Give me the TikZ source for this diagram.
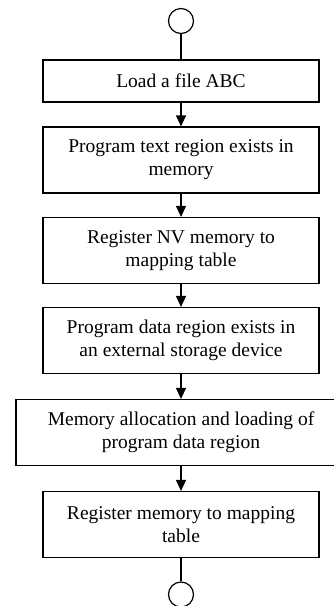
\documentclass[tikz,border=0pt]{standalone}
\usepackage{fontspec}
\setmainfont{Liberation Serif}
\usetikzlibrary{arrows.meta}
\begin{document}
\begin{tikzpicture}[x=1pt,y=-1pt,
  stepbox/.style={draw, rectangle, line width=1.2pt, inner sep=0pt, align=center,
    minimum width=276pt, minimum height=66pt,
    font=\fontsize{19.5}{23}\selectfont},
  term/.style={draw, circle, line width=1.2pt, minimum size=25pt, inner sep=0pt},
  flow/.style={line width=1.2pt, -{Triangle[length=11pt,width=10pt]}},
  plain/.style={line width=1.2pt}]
\clip (0,0) rectangle (334,606);
\node[term] (start) at (181,21) {};
\node[stepbox, minimum height=42pt] (b1) at (181,81) {Load a file ABC};
\node[stepbox] (b2) at (181,160) {Program text region exists in\\memory};
\node[stepbox] (b3) at (181,250.5) {Register NV memory to\\mapping table};
\node[stepbox] (b4) at (181,340.5) {Program data region exists in\\an external storage device};
\node[stepbox, minimum width=330pt] (b5) at (181,432.5) {Memory allocation and loading of\\program data region};
\node[stepbox] (b6) at (181,524.5) {Register memory to mapping\\table};
\node[term] (stop) at (181,594.5) {};
\draw[plain] (start) -- (b1);
\draw[flow] (b1) -- (b2);
\draw[flow] (b2) -- (b3);
\draw[flow] (b3) -- (b4);
\draw[flow] (b4) -- (b5);
\draw[flow] (b5) -- (b6);
\draw[plain] (b6) -- (stop);
\end{tikzpicture}
\end{document}
